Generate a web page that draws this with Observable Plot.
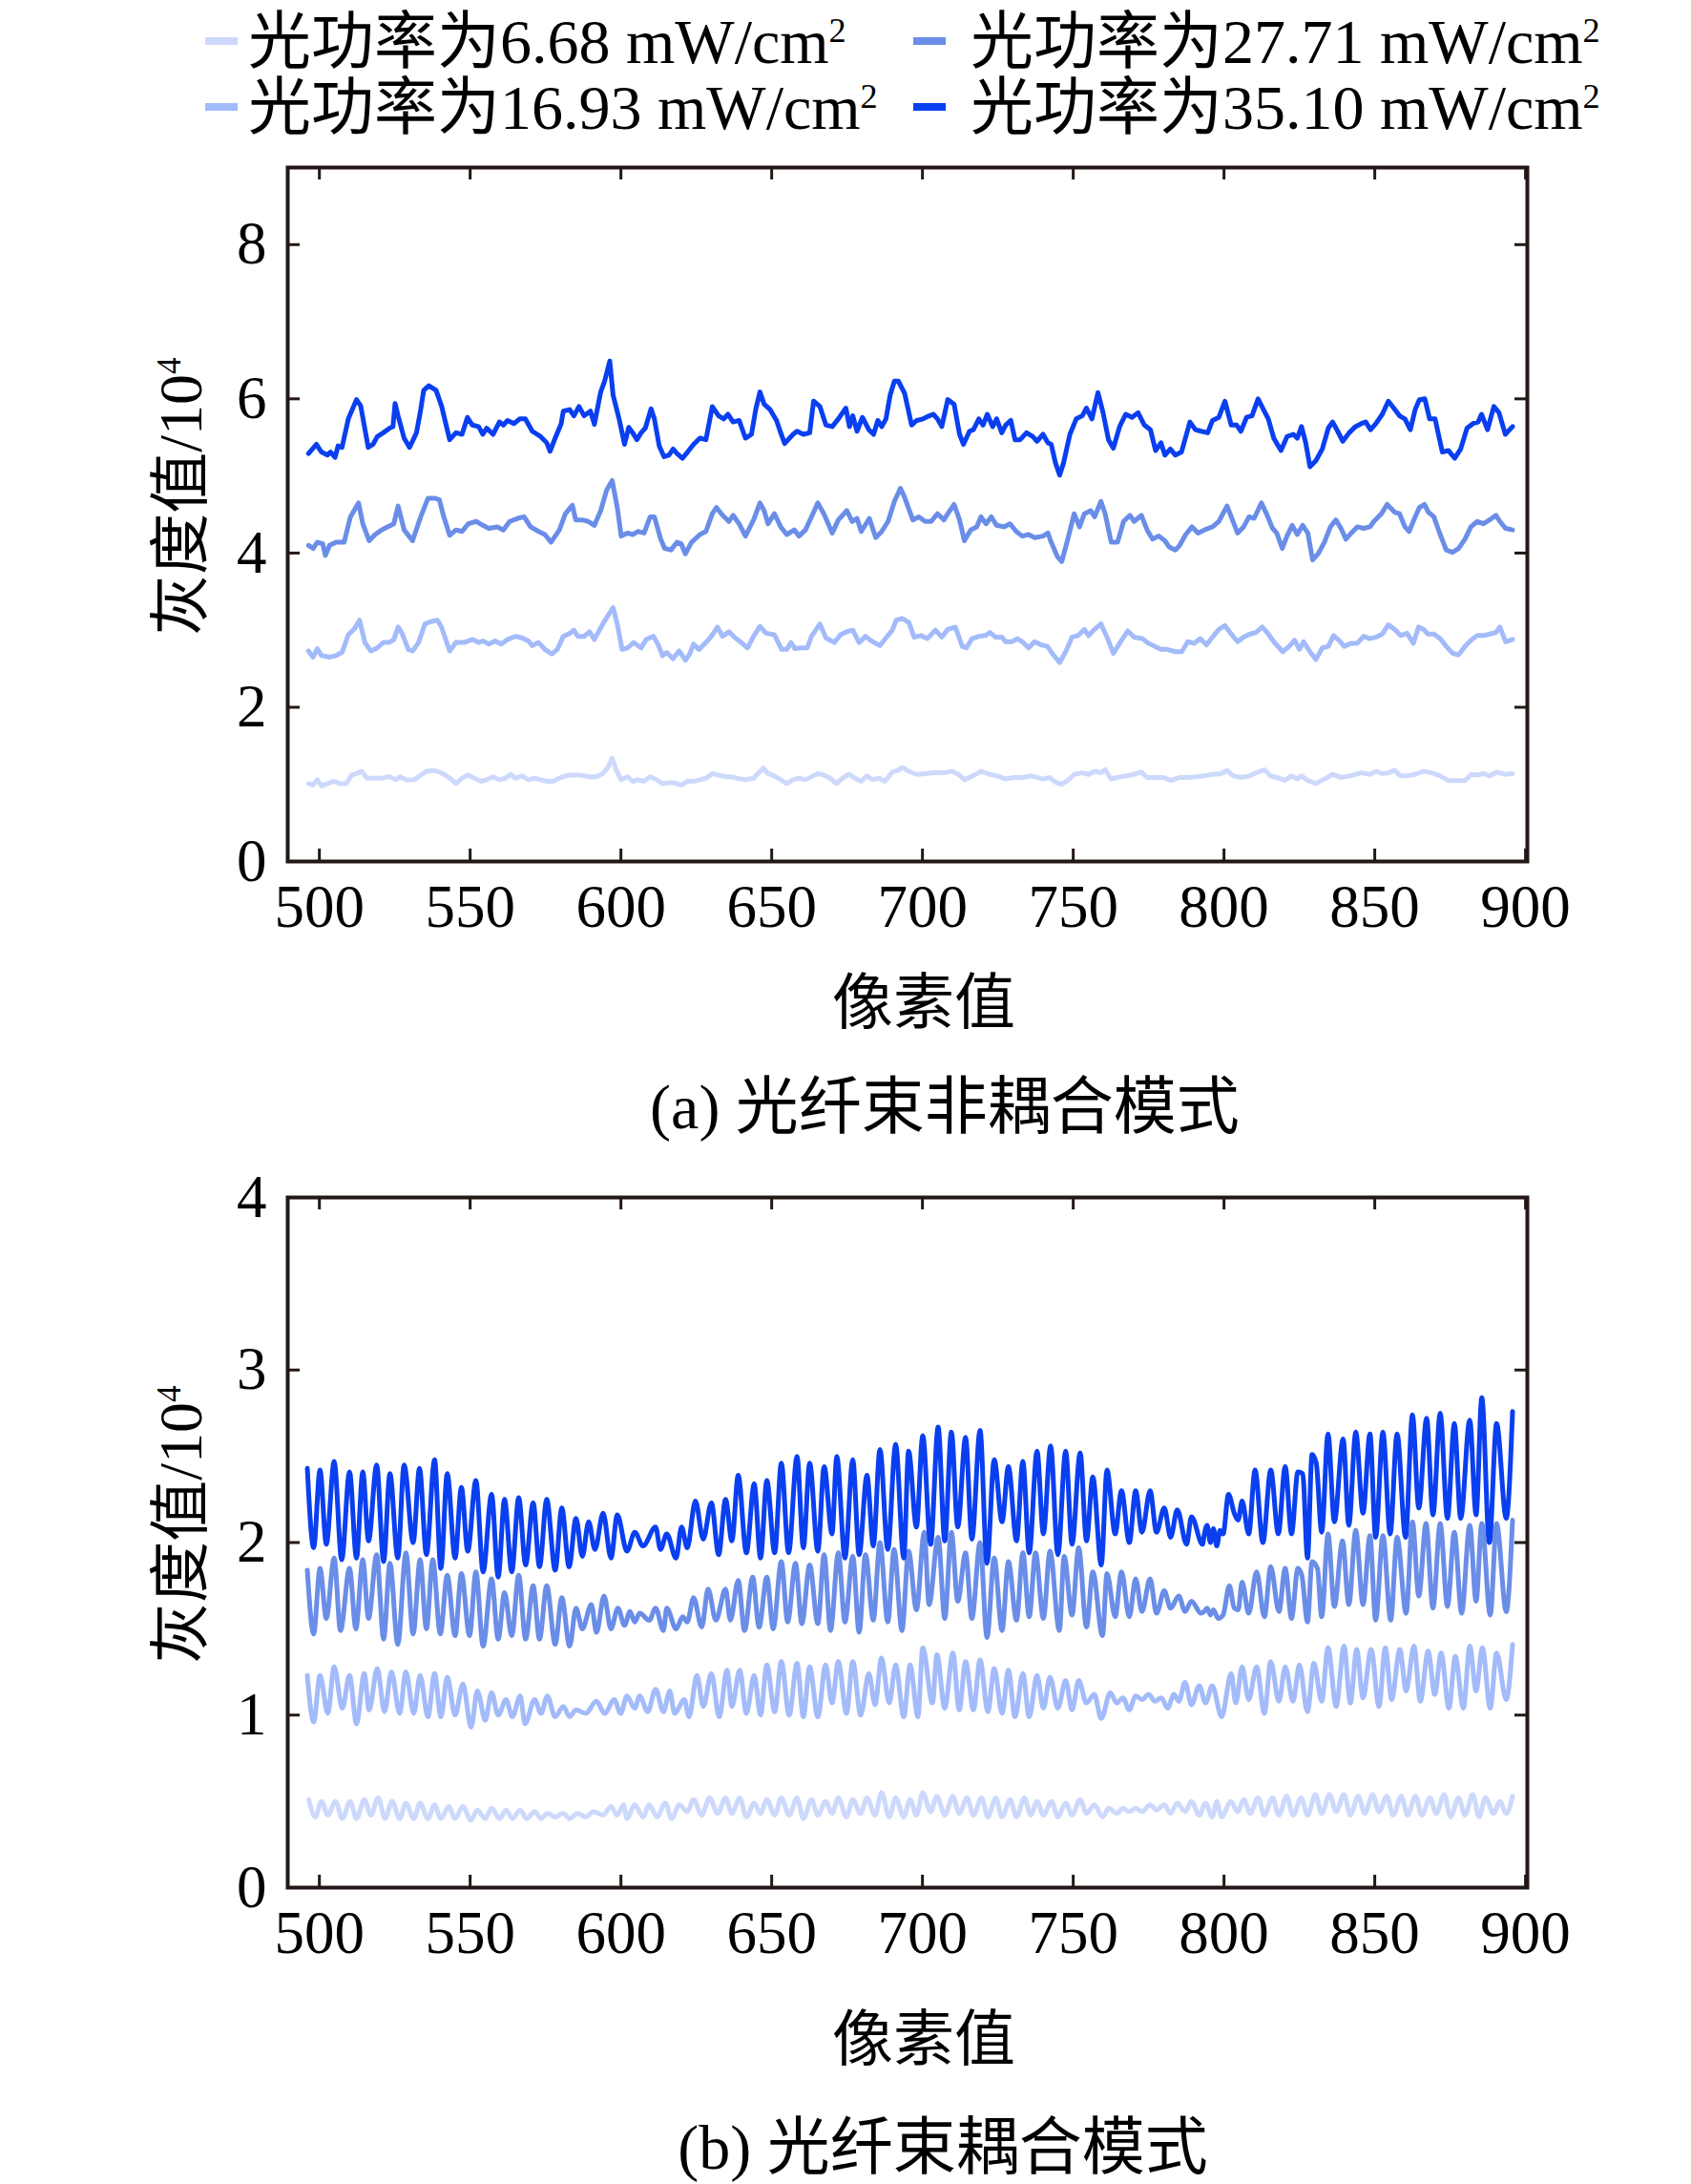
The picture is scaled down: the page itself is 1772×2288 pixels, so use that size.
<!DOCTYPE html>
<html><head><meta charset="utf-8">
<script src="https://cdn.jsdelivr.net/npm/d3@7"></script>
<script src="https://cdn.jsdelivr.net/npm/@observablehq/plot@0.6"></script>
<style>
html,body{margin:0;padding:0;background:#fff;}
#root{position:relative;width:1772px;height:2288px;overflow:hidden;font-family:"Liberation Serif","Noto Sans CJK SC",serif;color:#000;}
.abs{position:absolute;white-space:nowrap;line-height:1;}
.sup{font-size:0.55em;vertical-align:0.62em;}
.ctr{transform:translate(-50%,-50%);}
.rot{transform:translate(-50%,-50%) rotate(-90deg);}
</style></head><body><div id="root"></div>
<script>
// ---------- labels / ticks ----------
const powers = ["6.68", "16.93", "27.71", "35.10"];
const colors = ["#cdd9fc", "#a3bbfa", "#6a8de8", "#0a3ff0"];
const xTicks = [500, 550, 600, 650, 700, 750, 800, 850, 900];
const yTicksA = [0, 2, 4, 6, 8];
const yTicksB = [0, 1, 2, 3, 4];
const xLabel = "像素值";
const yLabel = "灰度值/10";
const captionA = "(a) 光纤束非耦合模式";
const captionB = "(b) 光纤束耦合模式";

// ---------- (a) non-coupled mode: [pixel, gray/1e4] ----------
const t1 = [[496.5,1.01],[497.9,0.99],[499.3,1.06],[500.7,0.98],[502.7,1.01],[504.8,1.04],[506.8,1.01],[508.9,1.01],[510.7,1.12],[512.3,1.14],[514,1.17],[515.8,1.08],[517.8,1.08],[520.6,1.08],[523.3,1.10],[525.4,1.06],[526.7,1.10],[528.8,1.06],[531.5,1.06],[533.6,1.12],[535.7,1.17],[537.7,1.18],[539.8,1.16],[541.8,1.12],[543.9,1.06],[545.3,1.01],[547.3,1.08],[549.4,1.12],[551.4,1.08],[553.5,1.04],[555.5,1.06],[557.6,1.10],[559.7,1.06],[561.7,1.08],[563.4,1.13],[565.1,1.08],[567.2,1.11],[569.3,1.06],[571.3,1.08],[573.4,1.06],[575.4,1.04],[577.5,1.04],[579.6,1.08],[581.6,1.11],[583.7,1.12],[586.4,1.12],[589.2,1.10],[591.9,1.10],[594,1.14],[595.7,1.22],[597.1,1.34],[598.5,1.18],[600.1,1.06],[602.2,1.10],[603.9,1.04],[605.6,1.06],[607.7,1.04],[609.7,1.10],[611.8,1.06],[613.8,1.01],[615.9,1.02],[617.9,1.02],[620,0.99],[622.1,1.04],[624.1,1.04],[626.2,1.06],[628.2,1.08],[630.3,1.14],[632.4,1.12],[634.4,1.10],[636.5,1.10],[638.5,1.08],[641.3,1.06],[644,1.08],[645.4,1.14],[647.2,1.21],[648.8,1.14],[650.9,1.11],[653,1.06],[655,1.01],[657.1,1.06],[659.1,1.08],[661.2,1.06],[663.2,1.10],[665.3,1.14],[667.3,1.12],[669.4,1.08],[671.5,1.01],[673.5,1.08],[675.6,1.13],[677.6,1.08],[679.7,1.04],[681.5,1.11],[683.5,1.06],[685.6,1.08],[687.6,1.04],[690,1.16],[691.8,1.18],[693.4,1.22],[695.4,1.17],[698.1,1.13],[700.9,1.14],[703.6,1.15],[707.1,1.15],[709.8,1.17],[711.9,1.13],[713.9,1.06],[716.7,1.11],[719.4,1.17],[722.2,1.13],[724.9,1.11],[727.6,1.07],[730.4,1.09],[733.1,1.09],[735.9,1.11],[737.9,1.09],[740,1.07],[742.1,1.09],[744.1,1.03],[746.2,1.00],[748.2,1.05],[750.3,1.13],[753,1.15],[755.1,1.13],[757.1,1.17],[759.2,1.15],[760.6,1.19],[762.6,1.07],[764.7,1.09],[767.4,1.11],[770.2,1.13],[772.6,1.16],[774.5,1.09],[777,1.09],[779.8,1.09],[782.5,1.05],[785.3,1.09],[788,1.09],[790.7,1.10],[793.5,1.11],[796.2,1.13],[799,1.14],[801,1.18],[803.1,1.11],[805.8,1.09],[808.6,1.11],[810.6,1.15],[813.4,1.19],[815.4,1.11],[817.5,1.09],[820.2,1.05],[822.3,1.11],[824.3,1.07],[825.7,1.11],[827.8,1.05],[830.5,1.01],[833.3,1.07],[836,1.13],[838.8,1.09],[841.5,1.11],[843.6,1.13],[845.6,1.15],[848.4,1.13],[850.4,1.17],[852.5,1.14],[854.5,1.15],[856.6,1.18],[858.6,1.11],[860.7,1.11],[863.4,1.13],[866.2,1.17],[868.9,1.15],[871.7,1.11],[874.4,1.05],[877.2,1.05],[879.9,1.05],[882,1.13],[884,1.12],[886.1,1.14],[888.1,1.11],[890.6,1.16],[892.9,1.13],[895.7,1.14]];

const t2 = [[496.4,2.73],[497.9,2.65],[499.3,2.76],[500.7,2.67],[503.4,2.65],[505.5,2.67],[507.5,2.71],[509.6,2.94],[511.7,3.02],[513.3,3.13],[515.1,2.84],[517.1,2.73],[519.2,2.77],[521.2,2.84],[523.3,2.84],[524.7,2.88],[526.1,3.04],[527.4,2.96],[529.5,2.75],[530.9,2.73],[532.9,2.84],[535,3.08],[537,3.11],[539.1,3.13],[540.5,3.04],[543.2,2.73],[545.3,2.84],[548,2.84],[550.7,2.88],[552.8,2.84],[554.2,2.86],[556.2,2.82],[558.3,2.86],[560.3,2.82],[562.4,2.88],[565.1,2.92],[567.2,2.90],[569.3,2.86],[570.6,2.80],[572.7,2.84],[574.8,2.75],[577.1,2.69],[578.9,2.75],[580.9,2.92],[583,2.96],[584.4,3.00],[585.7,2.92],[587.8,2.92],[589.6,2.98],[591.2,2.88],[594,3.08],[595.7,3.19],[597.4,3.29],[598.8,3.08],[600.4,2.75],[602.2,2.77],[604.2,2.84],[606.7,2.77],[608.4,2.88],[610.8,2.92],[612.5,2.80],[613.8,2.67],[615.2,2.71],[617.3,2.63],[619.3,2.73],[621.4,2.61],[622.8,2.69],[624.1,2.82],[625.9,2.75],[628.2,2.84],[630,2.92],[632,3.04],[633.7,2.92],[635.8,2.98],[637.9,2.90],[639.9,2.84],[642,2.77],[644,2.92],[646.1,3.05],[648.1,2.96],[650.9,2.94],[653.3,2.75],[655,2.75],[656.4,2.84],[657.7,2.76],[659.8,2.77],[661.8,2.77],[663.2,2.92],[666,3.08],[668,2.90],[670.8,2.84],[672.8,2.94],[674.9,2.98],[676.9,3.00],[679,2.84],[681.1,2.92],[683.1,2.86],[685.9,2.80],[687.9,2.90],[690,3.00],[691.3,3.13],[693.4,3.15],[695.5,3.10],[697.2,2.91],[699.5,2.93],[701.6,2.89],[704.3,3.00],[706.4,2.91],[708.4,3.01],[710.9,3.04],[713.2,2.79],[714.6,2.77],[716.4,2.89],[718.7,2.92],[720.8,2.93],[722.4,2.97],[724.2,2.91],[726.3,2.91],[727.6,2.85],[729.7,2.85],[731.5,2.89],[733.1,2.85],[735.2,2.77],[737.2,2.85],[739.3,2.81],[741.4,2.79],[743.4,2.68],[745.5,2.58],[747.5,2.72],[749.6,2.91],[751.6,2.93],[753.7,3.01],[755.1,2.93],[757.1,3.01],[759.2,3.08],[761.2,2.91],[763.3,2.70],[765.4,2.83],[768.1,2.99],[770.2,2.91],[772.9,2.89],[775,2.83],[777,2.79],[779.1,2.75],[781.1,2.75],[783.9,2.72],[786,2.72],[788,2.85],[790.1,2.83],[792.1,2.89],[794.2,2.81],[796.2,2.91],[798.3,3.01],[800.3,3.06],[802.4,2.95],[804.5,2.85],[806.5,2.91],[808.6,2.95],[810.6,2.97],[812.7,3.04],[814.7,2.95],[816.5,2.85],[819.5,2.72],[821.6,2.79],[823.4,2.87],[825,2.75],[826.4,2.85],[828.5,2.72],[830.5,2.62],[832.6,2.77],[834.6,2.79],[836.3,2.93],[838.1,2.87],[839.9,2.79],[842.2,2.83],[844.2,2.83],[846.3,2.92],[848.4,2.89],[850.4,2.91],[852.5,2.95],[854.5,3.07],[856.6,3.01],[858.6,2.93],[860.7,2.96],[862.8,2.83],[864.5,3.04],[866.2,3.01],[867.6,2.95],[869.6,2.95],[871.7,2.89],[873.7,2.79],[875.8,2.70],[877.8,2.68],[879.9,2.79],[881.9,2.87],[884,2.93],[886,2.93],[888.1,2.95],[890.2,2.97],[891.5,3.04],[893.4,2.85],[895.7,2.88]];

const t3 = [[496.4,4.10],[497.9,4.06],[499.3,4.14],[501.1,4.12],[502,3.97],[503.4,4.10],[505.5,4.14],[508.2,4.14],[510.3,4.47],[513,4.65],[514.4,4.38],[516.5,4.16],[518.5,4.24],[520.6,4.30],[522.6,4.34],[524.7,4.38],[526.1,4.61],[528.1,4.30],[530.9,4.16],[533.6,4.47],[536,4.71],[538.4,4.71],[539.8,4.69],[541.1,4.49],[543.2,4.23],[545.3,4.30],[547.3,4.28],[549.4,4.38],[552.1,4.41],[554.2,4.36],[556.2,4.32],[559,4.34],[561,4.30],[563.1,4.41],[565.8,4.45],[567.9,4.47],[570,4.34],[572.7,4.28],[574.8,4.24],[576.8,4.14],[579.6,4.30],[581.6,4.51],[583.9,4.62],[585,4.43],[587.1,4.43],[589.2,4.41],[591.2,4.36],[593.3,4.55],[595.3,4.82],[597.1,4.94],[598.8,4.59],[600.1,4.22],[602.2,4.26],[603.9,4.24],[605.6,4.28],[607.7,4.26],[609.7,4.47],[611.1,4.47],[613.2,4.18],[614.5,4.06],[616.6,4.04],[618.6,4.14],[620,4.12],[621.4,3.99],[623.4,4.14],[626.2,4.24],[628.2,4.28],[630.3,4.51],[631.7,4.59],[633.7,4.49],[635.8,4.41],[637.2,4.49],[639.2,4.38],[641.3,4.22],[644,4.43],[646.1,4.65],[647.5,4.55],[648.8,4.38],[650.9,4.51],[653,4.34],[655,4.24],[657.5,4.30],[659.1,4.22],[661.2,4.30],[663.2,4.47],[665.3,4.65],[667.3,4.51],[670.1,4.26],[672.1,4.43],[674.9,4.55],[676.7,4.41],[678.3,4.45],[679.7,4.28],[682.4,4.45],[684.5,4.20],[686.5,4.28],[688.6,4.41],[690.7,4.67],[692.7,4.84],[694,4.73],[696.8,4.43],[698.8,4.47],[700.9,4.41],[702.9,4.41],[705,4.51],[707.1,4.43],[708.4,4.51],[710.5,4.63],[712.3,4.43],[713.9,4.16],[716,4.30],[718,4.34],[719.4,4.47],[721.1,4.38],[722.8,4.47],[724.6,4.36],[727,4.34],[729,4.38],[731.1,4.28],[733.1,4.22],[735.2,4.24],[737.2,4.20],[740,4.22],[741.6,4.26],[742.7,4.14],[744.8,3.95],[746.2,3.89],[748.2,4.18],[750.3,4.51],[752.1,4.34],[753.7,4.51],[755.8,4.55],[757.1,4.47],[759.2,4.67],[760.6,4.51],[762.6,4.14],[764.7,4.14],[766.7,4.41],[768.8,4.49],[770.2,4.41],[772.6,4.49],[774.5,4.30],[776.3,4.18],[778.4,4.22],[780.4,4.16],[781.8,4.08],[783.9,4.04],[785.3,4.10],[787.3,4.24],[789.4,4.34],[791.4,4.26],[793.5,4.30],[796.2,4.34],[798.3,4.41],[801,4.61],[802.4,4.47],[804.5,4.26],[806.5,4.34],[808.3,4.47],[810,4.45],[812.4,4.65],[814.1,4.51],[816.1,4.32],[817.5,4.26],[819.3,4.06],[820.9,4.22],[822.6,4.36],[824.3,4.24],[826.1,4.36],[827.8,4.26],[829.4,3.91],[831.2,3.99],[833.3,4.14],[835.3,4.34],[837.1,4.43],[838.8,4.32],[840.4,4.18],[842.2,4.26],[844.2,4.34],[846.3,4.32],[848.4,4.34],[849.7,4.41],[852.2,4.51],[854.1,4.63],[856.6,4.53],[858.2,4.51],[860,4.34],[861.4,4.28],[863.2,4.45],[864.8,4.59],[866.5,4.63],[867.8,4.53],[869.6,4.47],[871.7,4.24],[873.7,4.04],[875.8,4.01],[877.8,4.06],[879.9,4.18],[881.9,4.34],[884,4.41],[886,4.38],[888.1,4.43],[890.2,4.49],[891.5,4.41],[893.4,4.32],[895.7,4.30]];

const t4 = [[496.4,5.29],[499,5.41],[500.7,5.31],[502.7,5.27],[503.7,5.31],[505.2,5.24],[506.2,5.39],[507.5,5.37],[509.6,5.74],[512.3,5.99],[513.7,5.91],[516.2,5.37],[517.8,5.41],[519.2,5.51],[521.2,5.56],[523.3,5.62],[524.4,5.64],[525.1,5.94],[526.1,5.78],[528.1,5.49],[529.9,5.37],[532.2,5.56],[533.6,5.86],[534.6,6.11],[536.3,6.17],[538.7,6.11],[540.5,5.91],[543.2,5.47],[545.3,5.56],[547.3,5.54],[549.1,5.76],[550.7,5.66],[552.8,5.64],[554.2,5.54],[555.5,5.62],[557.6,5.54],[559.7,5.70],[561,5.66],[562.4,5.72],[564.5,5.68],[566.5,5.74],[568.3,5.74],[570.6,5.58],[573.4,5.51],[575.4,5.43],[576.5,5.32],[578.2,5.49],[580.2,5.68],[580.9,5.84],[583,5.86],[584.4,5.78],[586.1,5.90],[587.8,5.78],[589.9,5.84],[591.2,5.67],[593.3,6.09],[594.6,6.23],[596.3,6.49],[597.4,6.05],[599.4,5.74],[601.2,5.41],[602.6,5.63],[603.9,5.56],[605.3,5.47],[606.7,5.56],[608.1,5.62],[610,5.87],[611.1,5.74],[612.7,5.39],[614.3,5.25],[615.9,5.27],[617.3,5.35],[618.6,5.29],[620.4,5.23],[622.1,5.31],[624.1,5.41],[626.2,5.49],[628.2,5.47],[630.3,5.90],[632.4,5.78],[634.1,5.74],[635.5,5.80],[637.2,5.70],[639.2,5.72],[641.3,5.49],[643.3,5.54],[644.7,5.86],[646.1,6.09],[647.5,5.93],[649.5,5.86],[651.6,5.72],[653,5.56],[654.3,5.42],[657.1,5.54],[658.4,5.58],[660.5,5.54],[662.6,5.56],[663.9,5.97],[666,5.90],[668,5.66],[670.1,5.64],[672.1,5.74],[674.6,5.88],[675.8,5.64],[676.9,5.78],[678.3,5.58],[680.1,5.76],[682.2,5.60],[683.8,5.54],[685.2,5.72],[686.5,5.64],[687.9,5.74],[689.3,6.05],[690.7,6.23],[692,6.23],[694.1,6.07],[696.4,5.66],[698.1,5.72],[700.2,5.74],[702.3,5.78],[703.6,5.80],[705,5.74],[706.4,5.64],[708.4,5.99],[710.5,5.93],[712.3,5.54],[713.6,5.41],[715.6,5.58],[716.9,5.60],[718.7,5.74],[720.1,5.66],[721.5,5.80],[723.3,5.64],[724.6,5.74],[726.3,5.56],[727.6,5.66],[729.3,5.72],[730.7,5.47],[732.4,5.47],[734.5,5.56],[736.6,5.51],[738,5.45],[740,5.54],[741.6,5.43],[742.7,5.41],[744.1,5.17],[745.5,5.01],[746.8,5.17],[748.9,5.54],[751,5.74],[753,5.78],[754.4,5.88],[756.2,5.74],[758.2,6.08],[759.9,5.82],[761.7,5.47],[763.3,5.36],[765.4,5.64],[767.4,5.80],[769.5,5.76],[771.5,5.82],[773.6,5.66],[775.6,5.60],[777.3,5.33],[779.1,5.43],[780.4,5.27],[782.2,5.35],[783.9,5.27],[785.9,5.31],[788.7,5.70],[790.5,5.60],[792.4,5.58],[794.6,5.56],[796.2,5.72],[798.3,5.76],[800.3,5.97],[802.4,5.66],[804.2,5.66],[805.6,5.58],[807.5,5.76],[809.3,5.78],[811.3,6.00],[813.1,5.86],[814.7,5.74],[816.5,5.49],[818.9,5.33],[820.9,5.51],[823,5.54],[824.3,5.49],[825.7,5.64],[827.1,5.43],[828.5,5.12],[830.5,5.20],[832.6,5.35],[834.6,5.62],[836,5.70],[837.7,5.58],[839.4,5.45],[841.5,5.56],[843.6,5.64],[845.6,5.68],[847,5.70],[848.6,5.60],[850.4,5.68],[852.5,5.80],[854.5,5.97],[856.3,5.88],[858.2,5.78],[860,5.74],[861.8,5.60],[863.4,5.86],[864.8,5.99],[866.6,6.00],[868.2,5.74],[870,5.74],[872.4,5.31],[874.4,5.33],[876.5,5.23],[878.5,5.35],[880.6,5.62],[882.6,5.68],[884.3,5.70],[885.4,5.80],[887.4,5.60],[889.5,5.90],[891.2,5.82],[893.3,5.54],[895.7,5.64]];

// ---------- (b) coupled mode: [pixel, gray/1e4] ----------
const b1 = [[496.5,0.51],[498.6,0.41],[500.7,0.50],[502.8,0.42],[505.4,0.50],[507.6,0.40],[510.2,0.50],[512.3,0.40],[514.9,0.51],[517.1,0.42],[519.5,0.52],[521.8,0.40],[524.1,0.50],[526.6,0.40],[528.7,0.49],[531.3,0.40],[533.4,0.49],[536.0,0.40],[538.2,0.48],[540.3,0.40],[542.9,0.47],[545.0,0.40],[547.6,0.47],[550.3,0.39],[552.4,0.45],[555.0,0.40],[557.1,0.46],[559.8,0.40],[561.9,0.45],[564.0,0.40],[566.6,0.45],[568.7,0.40],[571.4,0.44],[573.5,0.40],[575.6,0.43],[578.2,0.41],[580.9,0.43],[583.0,0.40],[585.6,0.43],[588.3,0.41],[590.9,0.44],[594.1,0.42],[596.7,0.47],[598.8,0.42],[600.9,0.48],[602.0,0.40],[604.6,0.48],[607.3,0.41],[609.4,0.48],[612.0,0.41],[614.7,0.49],[616.8,0.40],[619.4,0.48],[622.0,0.44],[624.1,0.51],[626.8,0.42],[629.4,0.52],[632.1,0.43],[634.7,0.52],[636.8,0.43],[639.4,0.52],[641.6,0.41],[644.2,0.49],[646.3,0.43],[648.4,0.51],[651.0,0.42],[653.2,0.52],[655.8,0.42],[658.4,0.52],[660.5,0.40],[663.2,0.51],[665.3,0.42],[667.9,0.50],[670.0,0.43],[672.1,0.52],[674.8,0.41],[676.9,0.51],[679.5,0.43],[681.6,0.52],[684.3,0.42],[686.4,0.55],[689.0,0.41],[691.1,0.52],[693.8,0.41],[695.9,0.51],[698.0,0.42],[700.1,0.55],[702.7,0.44],[704.8,0.53],[707.4,0.42],[710.1,0.53],[712.2,0.43],[714.8,0.52],[716.9,0.42],[719.6,0.52],[721.7,0.41],[724.3,0.52],[726.4,0.41],[729.1,0.51],[731.2,0.41],[733.8,0.52],[735.9,0.42],[738.0,0.50],[740.1,0.42],[742.8,0.50],[744.9,0.41],[747.5,0.49],[749.6,0.42],[752.3,0.51],[754.4,0.43],[757.0,0.48],[759.7,0.41],[761.8,0.46],[764.4,0.43],[766.5,0.46],[768.6,0.44],[770.7,0.46],[772.8,0.44],[775.5,0.48],[777.6,0.45],[780.2,0.48],[782.3,0.43],[784.5,0.49],[787.1,0.44],[789.2,0.50],[791.8,0.42],[793.9,0.49],[796.1,0.41],[797.6,0.50],[799.2,0.41],[802.3,0.50],[804.5,0.44],[806.6,0.51],[808.7,0.43],[811.3,0.52],[813.4,0.42],[816.1,0.52],[818.2,0.42],[820.8,0.53],[822.9,0.42],[825.6,0.52],[827.7,0.42],[830.3,0.54],[832.4,0.43],[835.0,0.54],[837.2,0.44],[839.8,0.54],[841.9,0.42],[844.5,0.53],[846.7,0.43],[849.3,0.54],[851.4,0.44],[854.0,0.53],[856.1,0.42],[858.8,0.53],[860.9,0.42],[863.5,0.53],[865.6,0.42],[868.3,0.52],[870.4,0.43],[873.0,0.54],[875.1,0.41],[877.8,0.52],[879.9,0.42],[882.5,0.54],[884.6,0.41],[886.7,0.52],[889.4,0.43],[891.5,0.50],[893.6,0.43],[895.7,0.53]];

const b2 = [[496.0,1.23],[498.1,0.96],[500.2,1.23],[502.8,1.01],[504.9,1.28],[507.6,1.04],[510.0,1.23],[512.3,0.95],[514.9,1.24],[516.5,1.03],[519.2,1.27],[521.6,1.02],[523.9,1.25],[526.6,1.01],[528.7,1.25],[531.3,1.01],[533.4,1.23],[536.0,0.99],[538.2,1.24],[540.3,0.99],[542.4,1.22],[545.0,1.00],[547.6,1.18],[550.3,0.93],[552.4,1.14],[555.0,0.97],[557.1,1.13],[559.3,1.00],[561.9,1.09],[564.0,0.99],[566.6,1.11],[568.2,0.95],[571.4,1.09],[573.5,1.01],[575.6,1.11],[578.2,0.99],[580.9,1.05],[583.0,0.99],[585.1,1.03],[588.3,1.01],[591.9,1.08],[594.6,1.01],[597.8,1.09],[599.9,1.01],[602.0,1.11],[604.6,1.04],[606.2,1.11],[608.9,1.02],[611.5,1.15],[614.1,1.02],[616.2,1.14],[617.8,1.01],[621.0,1.09],[622.6,0.99],[625.2,1.23],[627.3,1.05],[630.0,1.24],[632.6,0.99],[635.2,1.26],[636.8,1.05],[639.4,1.26],[641.6,1.01],[644.2,1.23],[646.3,1.00],[648.4,1.29],[651.0,1.02],[653.2,1.31],[655.8,1.00],[658.4,1.30],[660.5,0.99],[662.6,1.28],[665.3,0.99],[667.9,1.29],[670.0,1.07],[672.1,1.31],[674.8,1.01],[676.9,1.31],[679.5,1.00],[682.2,1.24],[684.3,1.06],[686.4,1.33],[689.0,1.07],[691.1,1.29],[693.8,0.99],[695.9,1.29],[698.5,0.99],[700.1,1.39],[703.3,1.07],[704.8,1.35],[707.4,1.04],[710.1,1.36],[712.2,1.03],[714.3,1.31],[716.9,1.03],[719.1,1.32],[721.7,1.02],[723.8,1.27],[726.4,1.01],[728.5,1.26],[730.7,0.99],[733.3,1.24],[735.4,0.99],[738.0,1.23],[740.1,1.04],[742.3,1.22],[744.9,1.04],[747.5,1.20],[749.6,1.03],[751.8,1.20],[754.4,1.07],[757.0,1.12],[759.3,0.98],[762.3,1.13],[764.4,1.07],[766.5,1.10],[768.6,1.03],[770.7,1.11],[772.8,1.09],[775.0,1.12],[777.1,1.08],[779.2,1.10],[781.3,1.04],[783.4,1.12],[785.0,1.08],[787.1,1.19],[789.2,1.06],[791.8,1.17],[793.9,1.07],[796.1,1.17],[799.2,0.99],[802.4,1.24],[803.9,1.07],[806.0,1.28],[808.2,1.09],[810.8,1.28],[813.4,1.01],[815.5,1.31],[818.2,1.08],[820.3,1.28],[822.9,1.08],[825.0,1.29],[827.7,1.02],[829.8,1.30],[832.4,1.08],[834.5,1.39],[837.2,1.05],[839.8,1.40],[841.9,1.07],[844.0,1.38],[846.1,1.10],[848.8,1.38],[851.4,1.05],[853.5,1.39],[855.6,1.09],[858.3,1.38],[860.4,1.14],[863.0,1.40],[865.1,1.08],[867.7,1.37],[869.9,1.12],[872.0,1.36],[874.6,1.04],[876.7,1.34],[879.4,1.04],[881.5,1.40],[883.6,1.14],[885.7,1.39],[888.3,1.04],[890.4,1.36],[893.6,1.09],[895.7,1.41]];

const b3 = [[496.0,1.84],[498.1,1.47],[500.2,1.85],[502.3,1.56],[504.9,1.91],[507.0,1.49],[510.0,1.85],[512.1,1.50],[514.4,1.90],[516.3,1.56],[519.0,1.93],[521.3,1.44],[523.4,1.88],[526.0,1.41],[528.7,1.94],[531.1,1.47],[533.4,1.90],[535.5,1.50],[537.6,1.90],[540.1,1.47],[542.4,1.81],[545.0,1.46],[547.1,1.82],[549.8,1.46],[551.9,1.83],[554.3,1.40],[557.1,1.79],[559.3,1.44],[561.4,1.71],[563.8,1.46],[566.1,1.81],[568.4,1.44],[570.9,1.75],[573.0,1.44],[575.4,1.75],[578.2,1.41],[580.4,1.68],[583.0,1.40],[585.1,1.62],[587.2,1.50],[590.2,1.64],[591.9,1.48],[594.4,1.69],[596.7,1.50],[599.0,1.62],[601.2,1.52],[603.0,1.60],[604.6,1.54],[606.2,1.59],[609.4,1.55],[611.5,1.62],[614.1,1.49],[615.2,1.62],[618.3,1.50],[620.5,1.57],[622.0,1.54],[624.1,1.68],[626.8,1.51],[628.9,1.73],[631.5,1.55],[634.7,1.73],[636.3,1.55],[638.9,1.78],[641.0,1.49],[643.7,1.80],[645.8,1.51],[648.4,1.80],[650.5,1.50],[653.2,1.89],[655.3,1.54],[657.9,1.88],[660.0,1.53],[662.6,1.87],[665.3,1.53],[667.4,1.93],[669.5,1.49],[672.1,1.94],[674.3,1.54],[676.9,1.92],[679.0,1.48],[681.1,1.93],[683.7,1.55],[685.9,2.00],[688.5,1.54],[690.6,1.96],[693.2,1.49],[695.4,1.95],[698.0,1.61],[700.6,2.06],[702.2,1.64],[705.2,2.03],[707.4,1.56],[709.6,2.06],[711.7,1.66],[714.3,1.94],[716.4,1.56],[719.1,2.00],[721.4,1.45],[723.8,1.91],[726.4,1.49],[728.5,1.89],[731.2,1.55],[733.3,1.94],[735.4,1.57],[737.5,1.94],[740.1,1.56],[742.3,1.95],[745.4,1.49],[747.0,1.92],[749.6,1.58],[751.8,1.97],[754.4,1.51],[756.5,1.83],[759.7,1.46],[761.2,1.82],[763.9,1.57],[766.0,1.83],[768.6,1.57],[770.7,1.79],[772.8,1.60],[775.5,1.79],[777.6,1.59],[780.2,1.72],[782.3,1.62],[785.0,1.69],[787.1,1.60],[789.2,1.66],[792.4,1.59],[793.4,1.60],[794.4,1.62],[795.5,1.58],[796.5,1.61],[798.1,1.56],[799.7,1.58],[801.8,1.75],[803.4,1.62],[804.7,1.61],[806.0,1.77],[808.2,1.59],[810.8,1.83],[813.4,1.57],[815.5,1.86],[818.2,1.60],[820.3,1.85],[822.4,1.56],[824.5,1.85],[825.8,1.81],[827.7,1.54],[829.2,1.89],[831.0,1.85],[832.4,1.57],[834.5,2.05],[836.6,1.63],[839.3,2.01],[841.4,1.64],[843.7,2.07],[846.1,1.64],[848.4,2.04],[850.3,1.55],[852.7,2.04],[855.3,1.55],[857.4,2.03],[860.4,1.59],[862.5,2.12],[864.6,1.69],[867.0,2.11],[869.3,1.62],[871.7,2.11],[874.1,1.63],[876.4,2.06],[878.8,1.59],[881.5,2.10],[883.6,1.66],[885.5,2.11],[888.3,1.58],[890.4,2.11],[893.6,1.60],[895.7,2.13]];

const b4 = [[496.0,2.43],[498.1,1.97],[500.2,2.42],[502.3,1.99],[504.9,2.47],[507.4,1.90],[510.0,2.41],[512.3,1.91],[514.4,2.41],[516.3,2.01],[519.0,2.45],[521.3,1.89],[523.4,2.40],[526.0,1.91],[528.1,2.45],[531.1,2.00],[533.2,2.43],[535.5,1.93],[538.2,2.48],[540.3,1.85],[542.4,2.40],[545.0,1.91],[547.1,2.32],[549.2,1.95],[551.9,2.36],[554.3,1.83],[557.1,2.28],[559.3,1.80],[561.4,2.25],[563.8,1.83],[566.1,2.26],[568.4,1.87],[570.9,2.23],[573.0,1.86],[575.4,2.25],[578.2,1.84],[580.4,2.20],[582.8,1.86],[585.1,2.14],[587.2,1.92],[589.3,2.12],[591.4,1.96],[594.1,2.17],[596.7,1.91],[598.8,2.16],[602.0,1.95],[604.6,2.06],[607.3,1.98],[611.5,2.09],[613.1,1.96],[615.2,2.05],[618.3,1.91],[620.1,2.09],[622.0,1.97],[624.7,2.24],[627.3,2.02],[630.0,2.23],[632.4,1.93],[634.7,2.25],[636.8,2.01],[638.9,2.39],[641.6,1.94],[644.2,2.34],[646.3,1.91],[648.4,2.36],[651.0,1.94],[653.2,2.46],[655.6,1.94],[658.4,2.50],[660.5,1.97],[662.6,2.46],[665.3,1.95],[667.4,2.44],[670.0,2.05],[671.6,2.50],[674.3,1.91],[676.9,2.48],[679.0,1.93],[681.6,2.39],[683.7,1.98],[685.9,2.54],[688.5,1.96],[691.1,2.57],[693.8,1.91],[695.4,2.53],[698.0,2.09],[700.1,2.62],[702.7,1.99],[705.2,2.67],[707.4,2.01],[709.6,2.64],[711.7,2.09],[714.3,2.61],[716.4,2.02],[719.1,2.65],[721.4,1.88],[723.8,2.48],[726.4,2.12],[728.5,2.44],[731.2,2.01],[733.3,2.47],[735.4,1.94],[738.0,2.53],[740.1,2.05],[742.5,2.56],[744.9,1.93],[747.5,2.53],[749.6,1.99],[752.3,2.52],[754.4,2.01],[756.5,2.38],[759.3,1.87],[761.2,2.42],[763.9,2.05],[766.0,2.30],[768.6,2.00],[770.7,2.30],[772.8,2.06],[775.5,2.30],[777.6,2.06],[780.2,2.20],[782.3,2.03],[784.5,2.19],[787.6,1.99],[789.2,2.15],[792.9,1.99],[793.4,2.04],[794.4,2.10],[795.5,2.00],[796.5,2.08],[797.6,1.98],[798.7,2.07],[799.7,2.05],[801.5,2.28],[803.4,2.17],[804.7,2.13],[806.0,2.24],[808.2,2.05],[810.3,2.42],[812.9,2.00],[815.5,2.42],[818.0,2.05],[820.3,2.44],[822.4,2.05],[824.5,2.41],[826.1,2.40],[827.7,1.91],[829.2,2.51],[830.6,2.46],[832.4,2.06],[834.5,2.63],[836.6,2.12],[839.5,2.60],[841.4,2.10],[843.7,2.64],[846.1,2.17],[848.4,2.63],[850.3,2.03],[852.7,2.64],[855.1,2.05],[857.4,2.63],[860.2,2.03],[862.5,2.74],[864.6,2.20],[867.2,2.72],[869.3,2.16],[871.7,2.75],[874.1,2.14],[876.4,2.69],[878.5,2.14],[881.5,2.71],[883.6,2.16],[885.5,2.84],[888.0,2.00],[890.4,2.69],[893.6,2.14],[895.7,2.76]];

// ---------- drawing ----------
const root = document.getElementById("root");
const FONT = '"Liberation Serif","Noto Sans CJK SC",serif';
const INK = "#231815";

function chart(series, yDomain, yTicks, mT, mB, curve) {
  const W = 1772, H = 860, mL = 301, mR = 172, tl = 13;
  const pw = W - mL - mR, ph = H - mT - mB;
  const marks = series.map((s, i) => Plot.line(s, {x: d => d[0], y: d => d[1], stroke: colors[i], strokeWidth: 5, curve}));
  marks.push(
    Plot.ruleX(xTicks, {x: d => d, insetTop: ph - tl, stroke: INK, strokeWidth: 3}),
    Plot.ruleX(xTicks, {x: d => d, insetBottom: ph - tl, stroke: INK, strokeWidth: 3}),
    Plot.ruleY(yTicks, {y: d => d, insetRight: pw - tl, stroke: INK, strokeWidth: 3}),
    Plot.ruleY(yTicks, {y: d => d, insetLeft: pw - tl, stroke: INK, strokeWidth: 3}),
    Plot.axisX({ticks: xTicks, tickSize: 0, tickPadding: 24, fontSize: 63, tickFormat: d => String(d)}),
    Plot.axisY({ticks: yTicks, tickSize: 0, tickPadding: 22, fontSize: 63, tickFormat: d => String(d)}),
    Plot.frame({stroke: INK, strokeWidth: 4})
  );
  return Plot.plot({
    width: W, height: H, marginLeft: mL, marginRight: mR, marginTop: mT, marginBottom: mB,
    x: {domain: [489.5, 900.6]}, y: {domain: yDomain},
    style: {fontFamily: FONT, background: "transparent", color: "#000", overflow: "visible"},
    marks
  });
}

function place(el, top) {
  const d = document.createElement("div");
  d.style.position = "absolute"; d.style.left = "0px"; d.style.top = top + "px";
  d.appendChild(el); root.appendChild(d);
}
function label(html, x, y, cls, size) {
  const d = document.createElement("div");
  d.className = "abs " + cls;
  d.style.left = x + "px"; d.style.top = y + "px"; d.style.fontSize = size + "px";
  d.innerHTML = html; root.appendChild(d);
}

place(chart([t1, t2, t3, t4], [0, 9], yTicksA, 25, 108, "linear"), 150);
place(chart([b1, b2, b3, b4], [0, 4], yTicksB, 34, 103, "monotone-x"), 1220);

// legend (column-major: 6.68, 16.93 | 27.71, 35.10): [symbolX, centerY, textX]
const legendSlots = [[215, 43, 260], [215, 112, 260], [957, 43, 1017], [957, 112, 1017]];
powers.forEach((p, i) => {
  const [sx, sy, tx] = legendSlots[i];
  const sym = document.createElement("div");
  sym.style.cssText = `position:absolute;left:${sx}px;top:${sy - 4}px;width:34px;height:8px;background:${colors[i]}`;
  root.appendChild(sym);
  label(`光功率为${p} mW/cm<span class="sup">2</span>`, tx, sy - 32, "", 66);
});

// axis titles and captions
label(`${yLabel}<span class="sup">4</span>`, 190, 520, "rot", 64);
label(`${yLabel}<span class="sup">4</span>`, 190, 1597, "rot", 64);
label(xLabel, 968, 1051, "ctr", 64);
label(xLabel, 968, 2137, "ctr", 64);
label(captionA, 990, 1160, "ctr", 66);
label(captionB, 988, 2250, "ctr", 66);
</script></body></html>
